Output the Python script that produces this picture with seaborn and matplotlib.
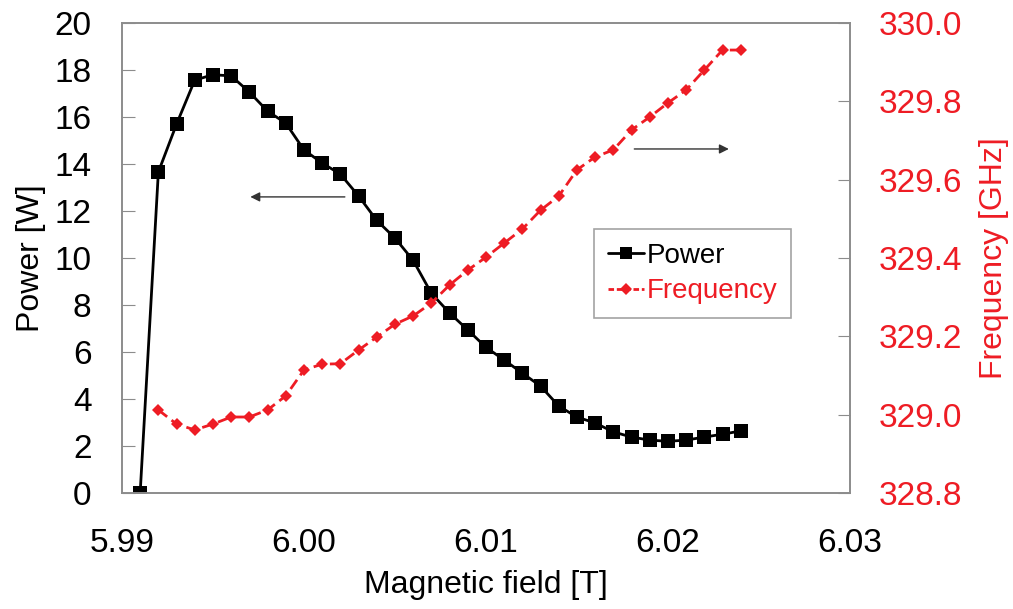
import numpy as np
import pandas as pd
import matplotlib
matplotlib.use("Agg")
import matplotlib.pyplot as plt
import seaborn as sns
from matplotlib.lines import Line2D

# Data
field_power = [5.991, 5.992, 5.993, 5.994, 5.995, 5.996, 5.997, 5.998, 5.999, 6.000,
               6.001, 6.002, 6.003, 6.004, 6.005, 6.006, 6.007, 6.008, 6.009, 6.010,
               6.011, 6.012, 6.013, 6.014, 6.015, 6.016, 6.017, 6.018, 6.019, 6.020,
               6.021, 6.022, 6.023, 6.024]
power = [0.0, 13.66, 15.7, 17.57, 17.8, 17.75, 17.06, 16.25, 15.74, 14.6,
         14.04, 13.57, 12.64, 11.6, 10.85, 9.9, 8.5, 7.66, 6.94, 6.2,
         5.66, 5.1, 4.55, 3.7, 3.23, 2.98, 2.6, 2.38, 2.25, 2.2,
         2.25, 2.38, 2.5, 2.64]

field_freq = field_power[1:]
frequency = [329.012, 328.976, 328.961, 328.976, 328.994, 328.994, 329.012, 329.048, 329.114,
             329.129, 329.130, 329.165, 329.198, 329.231, 329.252, 329.285, 329.331, 329.369,
             329.402, 329.438, 329.474, 329.522, 329.558, 329.625, 329.658, 329.676, 329.727,
             329.760, 329.796, 329.829, 329.880, 329.931, 329.931]

x_ticks = [5.99, 6.00, 6.01, 6.02, 6.03]
power_ticks = [0, 2, 4, 6, 8, 10, 12, 14, 16, 18, 20]
freq_ticks = [328.8, 329.0, 329.2, 329.4, 329.6, 329.8, 330.0]

df_p = pd.DataFrame({"field": field_power, "power": power})
df_f = pd.DataFrame({"field": field_freq, "frequency": frequency})

sns.set_style("white")
plt.rcParams['font.family'] = ['Liberation Sans', 'DejaVu Sans']
plt.rcParams['text.color'] = 'black'
plt.rcParams['axes.labelcolor'] = 'black'

red = "#ee1c24"
frame = "#8c8c8c"

fig = plt.figure(figsize=(10.13, 6.09), dpi=100)
ax = fig.add_axes([0.1204, 0.1905, 0.7186, 0.7717])
ax2 = ax.twinx()

sns.lineplot(data=df_p, x="field", y="power", ax=ax, color="black", linewidth=2,
             marker="s", markersize=10, markeredgewidth=0)
sns.lineplot(data=df_f, x="field", y="frequency", ax=ax2, color=red, linewidth=2,
             linestyle=(0, (4, 2)), marker="D", markersize=6.5, markeredgewidth=0)

ax.set_xlim(5.99, 6.03)
ax.set_ylim(0, 20)
ax2.set_ylim(328.8, 330.0)
ax.set_xticks(x_ticks)
ax.set_xticklabels([f"{v:.2f}" for v in x_ticks])
ax.set_yticks(power_ticks)
ax2.set_yticks(freq_ticks)
ax2.set_yticklabels([f"{v:.1f}" for v in freq_ticks])

for a in (ax, ax2):
    for s in a.spines.values():
        s.set_color(frame)
        s.set_linewidth(1.2)

ax.tick_params(axis="x", direction="in", length=9, color=frame, labelsize=24,
               pad=25, labelcolor="black")
ax.tick_params(axis="y", direction="in", length=9, color=frame, labelsize=24,
               pad=22, labelcolor="black")
ax2.tick_params(axis="y", direction="in", length=9, color=frame, labelsize=24, pad=21,
                labelcolor=red)

ax.set_xlabel("Magnetic field [T]", fontsize=23, labelpad=8)
ax.set_ylabel("Power [W]", fontsize=23, labelpad=6)
ax2.set_ylabel("Frequency [GHz]", fontsize=23, color=red, labelpad=12)

# direction arrows
ax.annotate("", xy=(5.9969, 12.6), xytext=(6.0024, 12.6),
            arrowprops=dict(arrowstyle="-|>", color="#333333", lw=1.0, mutation_scale=14))
ax.annotate("", xy=(6.0235, 14.64), xytext=(6.0180, 14.64),
            arrowprops=dict(arrowstyle="-|>", color="#333333", lw=1.0, mutation_scale=14))

handles = [
    Line2D([], [], color="black", linewidth=2, marker="s", markersize=9, markeredgewidth=0),
    Line2D([], [], color=red, linewidth=2, linestyle=(0, (2, 1)), marker="D",
           markersize=6, markeredgewidth=0),
]
leg = ax.legend(handles, ["Power", "Frequency"], loc="upper left",
                bbox_to_anchor=(0.648, 0.562), fontsize=20, frameon=True, fancybox=False,
                handlelength=1.3, handletextpad=0.1, borderpad=0.5, labelspacing=0.35,
                borderaxespad=0)
leg.get_frame().set_edgecolor(frame)
leg.get_frame().set_linewidth(1.2)
leg.get_texts()[1].set_color(red)

fig.savefig("out.png", dpi=100)
